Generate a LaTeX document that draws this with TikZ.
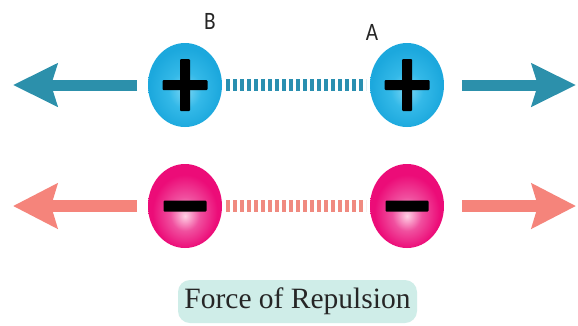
\documentclass[tikz,border=0pt]{standalone}
\usepackage{fontspec}
\setmainfont{Liberation Serif}
\newfontfamily\labfont{Carlito}
\usetikzlibrary{shapes.geometric,arrows.meta}
\definecolor{tealarr}{HTML}{2C90AB}
\definecolor{tealdash}{HTML}{2A8FB0}
\definecolor{bout}{HTML}{1CA8DD}
\definecolor{bmid}{HTML}{34B9E8}
\definecolor{bin}{HTML}{7AD6F5}
\definecolor{salarr}{HTML}{F5847B}
\definecolor{saldash}{HTML}{F08A80}
\definecolor{pout}{HTML}{EC0C78}
\definecolor{pmid}{HTML}{F0509F}
\definecolor{pin}{HTML}{FFD0E4}
\definecolor{boxfill}{HTML}{CFEDE8}
\definecolor{txt}{HTML}{262626}
\pgfdeclareradialshading{blueball}{\pgfpoint{0bp}{-4bp}}{color(0bp)=(bin); color(11bp)=(bmid); color(24bp)=(bout); color(50bp)=(bout)}
\pgfdeclareradialshading{pinkball}{\pgfpoint{0bp}{-6bp}}{color(0bp)=(pin); color(10bp)=(pmid); color(22bp)=(pout); color(50bp)=(pout)}
\tikzset{
  ball/.style={ellipse, minimum width=74pt, minimum height=84pt, inner sep=0pt, outer sep=0pt},
  posball/.style={ball, shading=blueball},
  negball/.style={ball, shading=pinkball},
  bluearrow/.style={draw=tealarr, line width=11pt, line cap=butt, -{Stealth[length=44pt,width=42pt,inset=6pt]}},
  pinkarrow/.style={draw=salarr, line width=12pt, line cap=butt, -{Stealth[length=44pt,width=44pt,inset=6pt]}},
  bluedash/.style={draw=tealdash, line width=12pt, dash pattern=on 4pt off 3pt, shorten <=4pt, shorten >=4pt},
  pinkdash/.style={draw=saldash, line width=12pt, dash pattern=on 4pt off 3pt, shorten <=4pt, shorten >=4pt},
  lab/.style={font=\labfont\fontsize{25}{28}\selectfont, text=txt, inner sep=0pt, xscale=0.85},
  title/.style={rounded corners=12pt, fill=boxfill, minimum width=239pt, minimum height=43pt, inner sep=0pt, text=txt, font=\fontsize{29.5}{32}\selectfont}
}
\begin{document}
\begin{tikzpicture}[x=1pt,y=-1pt]
\useasboundingbox[fill=white] (0,0) rectangle (578,325);
% positive charges
\node[posball] (B) at (185,85) {};
\node[posball] (A) at (407,85) {};
% negative charges
\node[negball] (C) at (185,206) {};
\node[negball] (D) at (407,206) {};
% arrow ends
\coordinate (tl) at (13,85);
\coordinate (tr) at (576,85);
\coordinate (bl) at (13,206);
\coordinate (br) at (576,206);
% arrows
\draw[bluearrow, shorten <=11pt] (B) -- (tl);
\draw[bluearrow, shorten <=18pt] (A) -- (tr);
\draw[pinkarrow, shorten <=11pt] (C) -- (bl);
\draw[pinkarrow, shorten <=18pt] (D) -- (br);
% dotted links
\draw[bluedash] (B) -- (A);
\draw[pinkdash] (C) -- (D);
% plus signs
\foreach \n in {B,A}{
  \fill[black, rounded corners=1pt] ([shift={(-22.5,-5)}]\n.center) rectangle ([shift={(22.5,5)}]\n.center);
  \fill[black, rounded corners=1pt] ([shift={(-5,-26)}]\n.center) rectangle ([shift={(5,26)}]\n.center);
}
% minus signs
\foreach \n in {C,D}{
  \fill[black, rounded corners=1pt] ([shift={(-21.5,-5.5)}]\n.center) rectangle ([shift={(21.5,5.5)}]\n.center);
}
% labels
\node[lab] (labB) at (210,21) {B};
\node[lab] (labA) at (372,32) {A};
% title
\node[title] (T) at (297.5,301.5) {Force of Repulsion};
\end{tikzpicture}
\end{document}
